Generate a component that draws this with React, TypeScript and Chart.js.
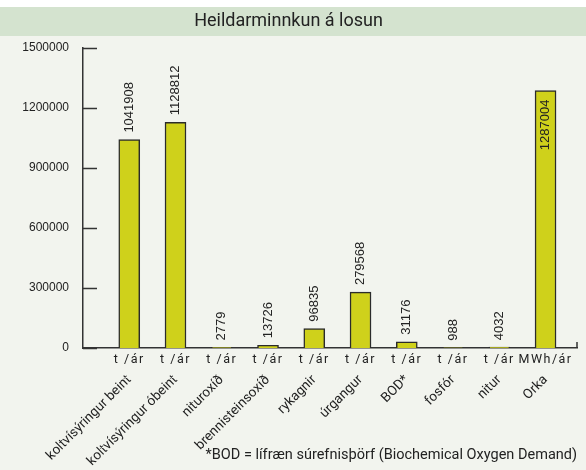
import React, { useEffect, useRef } from 'react';
import { Chart, registerables } from 'chart.js';

Chart.register(...registerables);

const chartTitle = 'Heildarminnkun á losun';
const footnote = '*BOD = lífræn súrefnisþörf (Biochemical Oxygen Demand)';
const categories = [
  'koltvísýringur beint',
  'koltvísýringur óbeint',
  'nituroxíð',
  'brennisteinsoxíð',
  'rykagnir',
  'úrgangur',
  'BOD*',
  'fosfór',
  'nitur',
  'Orka',
];
const units = ['t /ár', 't /ár', 't /ár', 't /ár', 't /ár', 't /ár', 't /ár', 't /ár', 't /ár', 'MWh/ár'];
const values = [1041908, 1128812, 2779, 13726, 96835, 279568, 31176, 988, 4032, 1287004];
const yTicks = [0, 300000, 600000, 900000, 1200000, 1500000];

const TEXT = '#222222';
const AXIS = '#333333';

const backgroundPlugin = {
  id: 'panelBackground',
  beforeDraw(chart: any) {
    const { ctx, width, height } = chart;
    ctx.save();
    ctx.fillStyle = '#f2f4ee';
    ctx.fillRect(0, 0, width, height);
    ctx.fillStyle = '#ffffff';
    ctx.fillRect(0, 0, width, 7);
    ctx.fillStyle = '#d4e3cf';
    ctx.fillRect(0, 7, width, 29);
    ctx.restore();
  },
};

const innerTicksPlugin = {
  id: 'innerTicks',
  afterDraw(chart: any) {
    const { ctx, chartArea } = chart;
    const y = chart.scales.y;
    ctx.save();
    ctx.strokeStyle = AXIS;
    ctx.lineWidth = 1.5;
    ctx.beginPath();
    y.ticks.forEach((t: any) => {
      const py = Math.round(y.getPixelForValue(t.value)) + 0.5;
      ctx.moveTo(chartArea.left, py);
      ctx.lineTo(chartArea.left + 14, py);
    });
    ctx.moveTo(chartArea.right, chartArea.bottom - 6);
    ctx.lineTo(chartArea.right, chartArea.bottom);
    ctx.stroke();
    ctx.restore();
  },
};

const valueLabelsPlugin = {
  id: 'valueLabels',
  afterDatasetsDraw(chart: any) {
    const { ctx, chartArea } = chart;
    const meta = chart.getDatasetMeta(0);
    ctx.save();
    ctx.font = '13px "Liberation Sans", Arial, sans-serif';
    ctx.fillStyle = TEXT;
    ctx.textBaseline = 'middle';
    meta.data.forEach((bar: any, i: number) => {
      const text = String(values[i]);
      const w = ctx.measureText(text).width;
      const outside = bar.y - 7 - w >= chartArea.top;
      ctx.save();
      if (outside) {
        ctx.translate(bar.x, bar.y - 7);
        ctx.rotate(-Math.PI / 2);
        ctx.textAlign = 'left';
      } else {
        ctx.translate(bar.x, bar.y + 9);
        ctx.rotate(-Math.PI / 2);
        ctx.textAlign = 'right';
      }
      ctx.fillText(text, 0, 0);
      ctx.restore();
    });
    ctx.restore();
  },
};

const indexTicks = (scale: any) => {
  scale.ticks = categories.map((_, i) => ({ value: i }));
};

const patchLabels = (s: any, spacing: string) => {
  if (s.__patched) return;
  s.__patched = true;
  s._computeLabelArea = () => undefined;
  const orig = s.drawLabels.bind(s);
  s.drawLabels = (area: any) => {
    const ctx = s.ctx;
    ctx.save();
    try {
      (ctx as any).letterSpacing = spacing;
    } catch (e) {}
    orig(area);
    ctx.restore();
  };
};

export default function App() {
  const ref = useRef<HTMLCanvasElement | null>(null);

  useEffect(() => {
    if (!ref.current) return;
    const chart = new Chart(ref.current, {
      type: 'bar',
      data: {
        datasets: [
          {
            data: values.map((v, i) => ({ x: i, y: v })),
            backgroundColor: '#cfd11b',
            borderColor: '#2b2b2b',
            borderWidth: 1.5,
            barThickness: 21,
          },
        ],
      },
      options: {
        responsive: false,
        animation: false,
        devicePixelRatio: 1,
        layout: { padding: { left: 0, right: 9, top: 0, bottom: 0 } },
        plugins: {
          legend: { display: false },
          tooltip: { enabled: false },
          title: {
            display: true,
            text: chartTitle,
            color: TEXT,
            font: { family: 'Roboto', size: 18, weight: 'normal' },
            padding: { top: 11, bottom: 15.4 },
          },
          subtitle: {
            display: true,
            text: footnote,
            position: 'bottom',
            align: 'end',
            color: TEXT,
            font: { family: 'Roboto', size: 14.5, weight: 'normal' },
            padding: { top: 4, bottom: 6.3 },
          },
        },
        scales: {
          x: {
            type: 'linear',
            position: 'bottom',
            offset: false,
            min: -1,
            max: 9.68,
            grid: { display: false, drawTicks: false },
            border: { display: true, color: AXIS, width: 1.5 },
            afterBuildTicks: indexTicks,
            afterFit: (s: any) => {
              s.height = 22;
              s.paddingLeft = 0;
              s.paddingRight = 0;
              patchLabels(s, '1.5px');
            },
            ticks: {
              autoSkip: false,
              minRotation: 0,
              maxRotation: 0,
              padding: 4,
              color: TEXT,
              font: { family: 'Roboto', size: 12.5 },
              callback: (v: any) => units[v] ?? '',
            },
          },
          x2: {
            type: 'linear',
            axis: 'x',
            position: 'bottom',
            offset: false,
            weight: 1,
            min: -1,
            max: 9.68,
            grid: { display: false, drawTicks: false },
            border: { display: false },
            afterBuildTicks: indexTicks,
            afterFit: (s: any) => {
              s.height = 72.3;
              s.paddingLeft = 0;
              s.paddingRight = 0;
              patchLabels(s, '0px');
            },
            ticks: {
              autoSkip: false,
              minRotation: 45,
              maxRotation: 45,
              padding: 2,
              color: TEXT,
              font: { family: 'Roboto', size: 13.5 },
              callback: (v: any) => categories[v] ?? '',
            },
          },
          y: {
            min: 0,
            max: 1500000,
            grid: { display: false, drawTicks: false },
            border: { display: true, color: AXIS, width: 1.5 },
            afterBuildTicks: (scale: any) => {
              scale.ticks = yTicks.map((v) => ({ value: v }));
            },
            afterFit: (s: any) => {
              s.width = 83;
            },
            ticks: {
              padding: 14,
              color: TEXT,
              font: { family: '"Liberation Sans", Arial, sans-serif', size: 12 },
              callback: (v: any) => String(v),
            },
          },
        },
      } as any,
      plugins: [backgroundPlugin, innerTicksPlugin, valueLabelsPlugin],
    });
    return () => chart.destroy();
  }, []);

  return (
    <div style={{ position: 'absolute', left: 0, top: 0, width: 586, height: 470 }}>
      <canvas ref={ref} width={586} height={470} style={{ display: 'block' }} />
    </div>
  );
}
